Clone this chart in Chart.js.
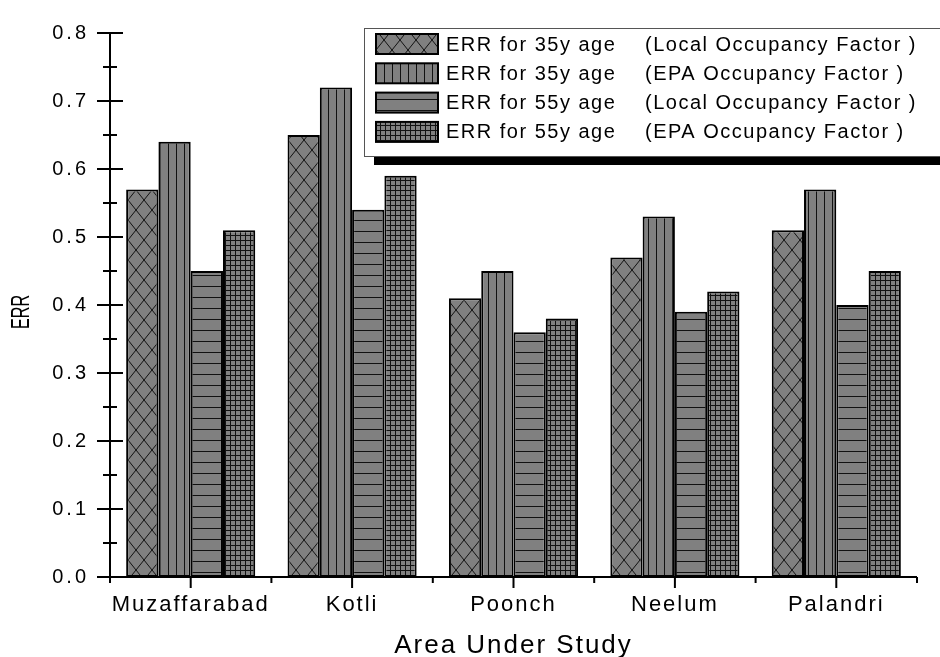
<!DOCTYPE html>
<html>
<head>
<meta charset="utf-8">
<script src="https://cdn.jsdelivr.net/npm/chart.js@4.4.1/dist/chart.umd.min.js"></script>
<style>
html, body { margin: 0; padding: 0; background: #fff; }
#wrap { width: 940px; height: 657px; }
</style>
</head>
<body>
<div id="wrap"><canvas id="errChart" width="940" height="657"></canvas></div>
<script>
// areas and ERR values
const areas = ['Muzaffarabad', 'Kotli', 'Poonch', 'Neelum', 'Palandri'];
const err35Local = [0.57, 0.65, 0.41, 0.47, 0.51];
const err35Epa = [0.64, 0.72, 0.45, 0.53, 0.57];
const err55Local = [0.45, 0.54, 0.36, 0.39, 0.40];
const err55Epa = [0.51, 0.59, 0.38, 0.42, 0.45];
const seriesAge = ['ERR for 35y age', 'ERR for 35y age', 'ERR for 55y age', 'ERR for 55y age'];
const seriesFactor = ['(Local Occupancy Factor )', '(EPA Occupancy Factor )', '(Local Occupancy Factor )', '(EPA Occupancy Factor )'];
const yMin = 0, yMax = 0.8, yStep = 0.1;

const FONT = "'Liberation Sans', Arial, sans-serif";

// hatch fills like the original plot
function makePattern(kind) {
    const c = document.createElement('canvas');
    const g = c.getContext('2d');
    let w = 16, h = 20;
    if (kind === 'vert') { w = 8; h = 8; }
    if (kind === 'horiz') { w = 8; h = 11; }
    if (kind === 'grid') { w = 5; h = 5; }
    c.width = w; c.height = h;
    g.fillStyle = '#808080';
    g.fillRect(0, 0, w, h);
    g.strokeStyle = '#111';
    g.lineWidth = 1;
    g.beginPath();
    if (kind === 'cross') {
        g.moveTo(0, 0); g.lineTo(w, h);
        g.moveTo(w, 0); g.lineTo(0, h);
    }
    if (kind === 'vert' || kind === 'grid') {
        g.moveTo(0.5, 0); g.lineTo(0.5, h);
    }
    if (kind === 'horiz' || kind === 'grid') {
        g.moveTo(0, 0.5); g.lineTo(w, 0.5);
    }
    g.stroke();
    return g.createPattern(c, 'repeat');
}

const fills = [makePattern('cross'), makePattern('vert'), makePattern('horiz'), makePattern('grid')];
const values = [err35Local, err35Epa, err55Local, err55Epa];

// axes with crossing ticks, drawn over bar bottoms
const axesPlugin = {
    id: 'axesPlugin',
    afterUpdate(chart) {
        // wider spacing on the y tick labels only
        const y = chart.scales.y;
        const orig = Object.getPrototypeOf(y).drawLabels;
        y.drawLabels = function (area) {
            const c = this.ctx;
            const prev = c.letterSpacing;
            c.letterSpacing = '3px';
            orig.call(this, area);
            c.letterSpacing = prev;
        };
    },
    beforeDraw(chart) {
        chart.ctx.letterSpacing = '2px';
    },
    afterDatasetsDraw(chart) {
        const ctx = chart.ctx;
        const xS = chart.scales.x, yS = chart.scales.y;
        const x0 = xS.left;
        const yBase = yS.getPixelForValue(yMin);
        ctx.save();
        ctx.strokeStyle = '#000';
        ctx.lineWidth = 2;
        ctx.beginPath();
        ctx.moveTo(x0, yS.getPixelForValue(yMax));
        ctx.lineTo(x0, yBase + 6);
        ctx.moveTo(x0 - 13, yBase);
        ctx.lineTo(xS.right, yBase);
        for (let i = 0; i <= Math.round((yMax - yMin) / yStep) * 2; i++) {
            const py = yS.getPixelForValue(yMin + i * yStep / 2);
            const half = i % 2 === 0 ? 13 : 7;
            ctx.moveTo(x0 - half, py);
            ctx.lineTo(x0 + half, py);
        }
        for (let i = 0; i < areas.length; i++) {
            const px = xS.getPixelForValue(i);
            ctx.moveTo(px, yBase);
            ctx.lineTo(px, yBase + 11);
        }
        for (let i = 0; i <= areas.length; i++) {
            const px = xS.getPixelForValue(i - 0.5);
            ctx.moveTo(px, yBase);
            ctx.lineTo(px, yBase + 6);
        }
        ctx.stroke();
        ctx.restore();
    },
    afterDraw(chart) {
        const ctx = chart.ctx;
        // y title, narrow and tall as in the figure
        ctx.save();
        ctx.letterSpacing = '0px';
        ctx.translate(22, 312);
        ctx.rotate(-Math.PI / 2);
        ctx.scale(0.62, 1);
        ctx.font = '26px ' + FONT;
        ctx.fillStyle = '#000';
        ctx.textAlign = 'center';
        ctx.textBaseline = 'middle';
        ctx.fillText('ERR', 0, 0);
        ctx.restore();

        // legend box with drop shadow
        const bx = 364, by = 28, bw = 620, bh = 128;
        ctx.save();
        ctx.fillStyle = '#000';
        ctx.fillRect(bx + 10, by + bh, bw, 9);
        ctx.fillStyle = '#fff';
        ctx.fillRect(bx, by, bw, bh);
        ctx.strokeStyle = '#555';
        ctx.lineWidth = 1;
        ctx.strokeRect(bx + 0.5, by + 0.5, bw, bh);
        ctx.font = '20px ' + FONT;
        ctx.letterSpacing = '1.5px';
        ctx.textBaseline = 'middle';
        chart.data.datasets.forEach((ds, i) => {
            const ry = 34 + i * 29.3;
            ctx.fillStyle = ds.backgroundColor;
            ctx.fillRect(376, ry, 62, 20);
            ctx.strokeStyle = '#000';
            ctx.lineWidth = 2;
            ctx.strokeRect(376, ry, 62, 20);
            ctx.fillStyle = '#000';
            ctx.fillText(seriesAge[i], 446, ry + 11);
            ctx.fillText(seriesFactor[i], 645, ry + 11);
        });
        ctx.restore();
    }
};

const ctxErr = document.getElementById('errChart').getContext('2d');

const errChart = new Chart(ctxErr, {
    type: 'bar',
    data: {
        labels: areas,
        datasets: values.map((v, i) => ({
            label: seriesAge[i] + ' ' + seriesFactor[i],
            data: v,
            backgroundColor: fills[i],
            borderColor: '#000',
            borderWidth: 2,
            borderSkipped: false,
            categoryPercentage: 0.8,
            barPercentage: 1.0
        }))
    },
    options: {
        responsive: false,
        animation: false,
        layout: { padding: { left: 0, top: 25, right: 23, bottom: 0 } },
        plugins: {
            legend: { display: false },
            tooltip: { enabled: false }
        },
        scales: {
            x: {
                grid: { display: false, drawTicks: false },
                border: { display: false },
                ticks: { color: '#000', font: { family: FONT, size: 22 }, padding: 15 },
                title: {
                    display: true,
                    text: 'Area Under Study',
                    color: '#000',
                    font: { family: FONT, size: 26 },
                    padding: { top: 0, bottom: -4 }
                },
                afterFit(scale) { scale.height = 80; }
            },
            y: {
                min: yMin,
                max: yMax,
                grid: { display: false, drawTicks: false },
                border: { display: false },
                ticks: {
                    stepSize: yStep,
                    color: '#000',
                    font: { family: FONT, size: 20 },
                    padding: 21,
                    callback: v => v.toFixed(1)
                },
                afterFit(scale) { scale.width = 110; }
            }
        }
    },
    plugins: [axesPlugin]
});
</script>
</body>
</html>
